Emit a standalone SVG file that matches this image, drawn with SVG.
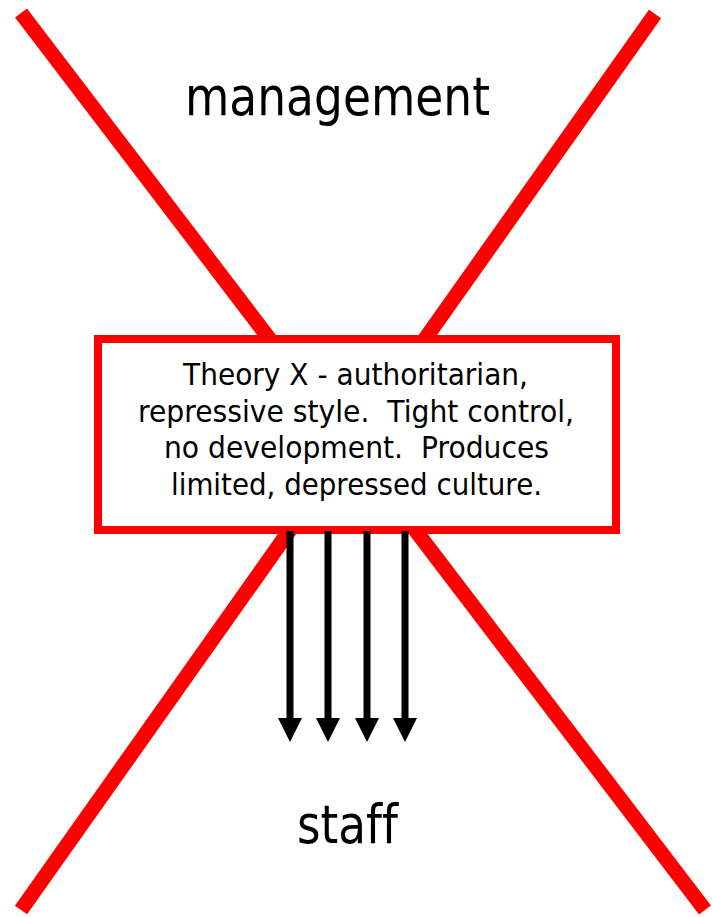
<svg xmlns="http://www.w3.org/2000/svg" width="713" height="917" viewBox="0 0 713 917">
  <style>
    .cross { stroke: #ff0000; stroke-width: 15; stroke-linecap: butt; fill: none; }
    .box { fill: #ffffff; stroke: #ff0000; stroke-width: 8; }
    .label { font-family: "DejaVu Sans", "Liberation Sans", sans-serif; font-size: 54px; fill: #000000; font-variant-ligatures: none; font-feature-settings: "liga" 0; }
    .body { font-family: "DejaVu Sans", "Liberation Sans", sans-serif; font-size: 30px; fill: #000000; font-variant-ligatures: none; }
    .arrow { stroke: #000000; stroke-width: 7; fill: none; }
  </style>
  <defs>
    <marker id="head" markerUnits="userSpaceOnUse" markerWidth="24" markerHeight="24" refX="0" refY="12" orient="auto" viewBox="0 0 24 24">
      <path d="M0,0 L24,12 L0,24 Z" fill="#000000"/>
    </marker>
  </defs>
  <rect x="0" y="0" width="713" height="917" fill="#ffffff"/>
  <g id="cross">
    <line class="cross" x1="21" y1="13" x2="705" y2="910"/>
    <line class="cross" x1="655" y1="14" x2="21" y2="910"/>
  </g>
  <g id="management">
    <text class="label" x="185" y="115" textLength="305" lengthAdjust="spacingAndGlyphs">management</text>
  </g>
  <g id="theory-x">
    <rect class="box" x="98" y="339" width="518" height="191"/>
    <text class="body" x="183" y="385" textLength="345" lengthAdjust="spacingAndGlyphs">Theory X - authoritarian,</text>
    <text class="body" x="138" y="422" textLength="436" lengthAdjust="spacingAndGlyphs" xml:space="preserve">repressive style.  Tight control,</text>
    <text class="body" x="164" y="458" textLength="385" lengthAdjust="spacingAndGlyphs" xml:space="preserve">no development.  Produces</text>
    <text class="body" x="171" y="495" textLength="371" lengthAdjust="spacingAndGlyphs">limited, depressed culture.</text>
  </g>
  <g id="connectors">
    <line class="arrow" x1="290" y1="531" x2="290" y2="718" marker-end="url(#head)"/>
    <line class="arrow" x1="328" y1="531" x2="328" y2="718" marker-end="url(#head)"/>
    <line class="arrow" x1="367" y1="531" x2="367" y2="718" marker-end="url(#head)"/>
    <line class="arrow" x1="405" y1="531" x2="405" y2="718" marker-end="url(#head)"/>
  </g>
  <g id="staff">
    <text class="label" x="297" y="843" textLength="101" lengthAdjust="spacingAndGlyphs">staff</text>
  </g>
</svg>
